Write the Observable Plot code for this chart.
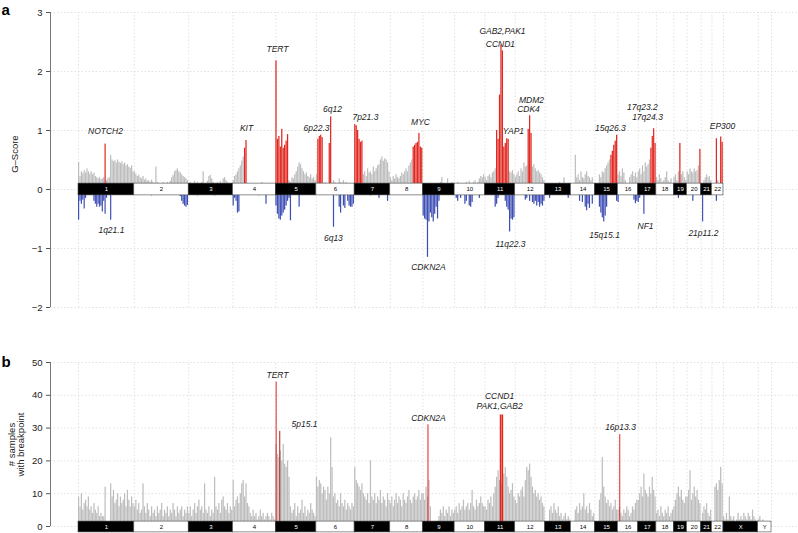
<!DOCTYPE html>
<html><head><meta charset="utf-8">
<script src="https://cdn.jsdelivr.net/npm/d3@7"></script>
<script src="https://cdn.jsdelivr.net/npm/@observablehq/plot@0.6"></script>
<style>
body{margin:0;background:#fff;font-family:"Liberation Sans",Arial,sans-serif;}
#wrap{position:relative;width:798px;height:533px;overflow:hidden;}
#pa{position:absolute;left:0;top:0;}
#pb{position:absolute;left:0;top:330px;}
</style></head><body>
<div id="wrap"><div id="pa"></div><div id="pb"></div></div>
<script>
// ---------- data ----------
const chromNames = ["1","2","3","4","5","6","7","8","9","10","11","12","13","14","15","16","17","18","19","20","21","22","X","Y"];
const chromLengths = [249.25,243.2,198.02,191.15,180.92,171.12,159.14,146.36,141.21,135.53,135.01,133.85,115.17,107.35,102.53,90.35,81.2,78.08,59.13,63.03,48.13,51.3,155.27,59.37];

// G-score of amplifications, bins spread evenly along each chromosome (chr1..chr22)
const ampScores = [
 [0.46,0.22,0.3,0.27,0.32,0.28,0.35,0.3,0.26,0.3,0.25,0.28,0.22,0.2,0.18,0.2,0.17,0.18,0.2,0.77,0.15,0.18,0.2,0.58,0.5,0.47,0.49,0.45,0.5,0.46,0.44,0.47,0.42,0.45,0.4,0.42,0.38,0.36,0.4,0.3],
 [0.3,0.26,0.22,0.24,0.2,0.18,0.22,0.16,0.18,0.14,0.15,0.12,0.16,0.12,0.1,0.38,0.12,0.1,0.08,0.1,0.12,0.08,0.1,0.12,0.1,0.14,0.2,0.24,0.3,0.32,0.35,0.3,0.28,0.25,0.22,0.2,0.18,0.15],
 [0.1,0.12,0.08,0.1,0.14,0.1,0.12,0.08,0.1,0.12,0.3,0.1,0.08,0.14,0.22,0.24,0.18,0.12,0.1,0.08,0.12,0.1,0.14,0.1,0.18,0.2,0.15,0.12,0.1,0.08,0.1],
 [0.15,0.22,0.25,0.3,0.35,0.4,0.48,0.55,0.7,0.83,0.1,0.08,0.1,0.06,0.08,0.05,0.1,0.06,0.05,0.08,0.12,0.06,0.05,0.08,0.04,0.06,0.1,0.05,0.04,0.06],
 [2.18,0.85,0.9,0.72,1.02,0.7,0.75,0.82,0.93,0.15,0.12,0.2,0.18,0.25,0.3,0.38,0.45,0.42,0.35,0.3,0.25,0.28,0.22,0.2,0.25,0.18,0.2,0.15],
 [0.25,0.85,0.9,0.92,0.88,0.1,0.12,0.08,0.1,0.78,1.23,0.1,0.15,0.12,0.08,0.1,0.18,0.12,0.1,0.15,0.1,0.12,0.08,0.1,0.06,0.08,0.05],
 [1.1,1.08,1.0,0.85,0.8,0.82,0.25,0.3,0.22,0.35,0.28,0.3,0.25,0.38,0.3,0.35,0.4,0.42,0.5,0.55,0.48,0.52,0.5,0.45,0.3],
 [0.2,0.15,0.22,0.18,0.25,0.2,0.18,0.22,0.28,0.25,0.3,0.35,0.3,0.4,0.45,0.5,0.72,0.75,0.78,0.8,0.95,0.72,0.7],
 [0.05,0.04,0.06,0.03,0.05,0.04,0.02,0.02,0.03,0.08,0.1,0.06,0.12,0.2,0.08,0.1,0.06,0.18,0.1,0.08,0.12,0.06],
 [0.08,0.1,0.12,0.06,0.1,0.08,0.05,0.1,0.12,0.08,0.14,0.1,0.08,0.12,0.15,0.1,0.12,0.18,0.22,0.2,0.25],
 [0.2,0.15,0.22,0.25,0.2,0.28,0.3,0.35,1.0,0.85,1.6,2.45,2.35,0.72,0.78,0.86,0.85,0.3,0.28,0.32,0.25],
 [0.2,0.25,0.3,0.22,0.35,0.3,0.45,0.38,0.4,1.02,1.25,0.95,0.38,0.42,0.35,0.3,0.32,0.28,0.25,0.2,0.15],
 [0,0,0,0.06,0.08,0.05,0.1,0.06,0.04,0.08,0.12,0.06,0.05,0.2,0.08,0.06,0.1,0.05],
 [0,0,0,0.58,0.2,0.25,0.15,0.3,0.2,0.18,0.25,0.3,0.22,0.2,0.15,0.2,0.1],
 [0,0,0,0.25,0.2,0.3,0.28,0.35,0.4,0.45,0.5,0.58,0.65,0.75,0.82,0.92],
 [0.25,0.3,0.22,0.35,0.28,0.15,0.05,0.1,0.2,0.25,0.3,0.22,0.28,0.2],
 [0.3,0.35,0.25,0.4,0.3,0.45,0.38,0.42,0.5,0.7,0.9,1.03,0.78],
 [0.2,0.15,0.25,0.18,0.12,0.15,0.2,0.3,0.15,0.12,0.18,0.1],
 [0.2,0.25,0.15,0.3,0.78,0.25,0.3,0.2,0.15],
 [0.3,0.25,0.35,0.3,0.28,0.35,0.3,0.32,0.4,0.68],
 [0,0,0.15,0.2,0.25,0.2,0.22,0.15],
 [0,0,0.1,0.86,0.15,0.1,0.89,0.8]
];
// indices of significant (red) amplification bins per chromosome
const ampSignificant = [
 [19],[],[],[8,9],[0,1,2,3,4,5,6,7,8],[1,2,3,4,9,10],[0,1,2,3,4,5],[16,17,18,19,20,21,22],[],[],
 [8,9,10,11,12,13,14,15,16],[9,10,11],[],[],[11,12,13,14,15],[],[9,10,11,12],[],[4],[9],[],[3,6,7]
];
// G-score of deletions (magnitude), same binning
const delScores = [
 [0.52,0.2,0.25,0.18,0.33,0.15,0.08,0.1,0.05,0.06,0.08,0.2,0.25,0.3,0.25,0.3,0.28,0.38,0.2,0.42,0.15,0.05,0.08,0.52,0.1,0.05,0.08,0.04,0.06,0.1,0.05,0.07,0.04,0.06,0.08,0.05,0.04,0.06,0.05,0.03],
 [0.04,0.06,0.05,0.08,0.03,0.05,0.1,0.04,0.06,0.05,0.03,0.07,0.12,0.04,0.05,0.06,0.03,0.04,0.08,0.05,0.04,0.06,0.1,0.05,0.03,0.04,0.06,0.05,0.08,0.04,0.05,0.06,0.12,0.2,0.25,0.28,0.3,0.27],
 [0.05,0.08,0.04,0.06,0.1,0.05,0.12,0.04,0.06,0.08,0.05,0.03,0.06,0.1,0.05,0.04,0.07,0.05,0.12,0.04,0.06,0.05,0.08,0.04,0.06,0.1,0.05,0.04,0.06,0.05,0.08],
 [0.28,0.15,0.2,0.4,0.38,0.08,0.05,0.06,0.04,0.05,0.06,0.04,0.05,0.08,0.05,0.1,0.06,0.05,0.12,0.05,0.08,0.06,0.04,0.25,0.06,0.05,0.08,0.05,0.04,0.06],
 [0.28,0.42,0.5,0.52,0.45,0.4,0.35,0.28,0.2,0.15,0.53,0.08,0.06,0.1,0.05,0.08,0.3,0.06,0.05,0.08,0.04,0.06,0.05,0.04,0.06,0.05,0.04,0.03],
 [0.05,0.04,0.06,0.08,0.05,0.04,0.06,0.05,0.08,0.05,0.06,0.1,0.64,0.08,0.12,0.06,0.3,0.4,0.08,0.28,0.32,0.1,0.2,0.28,0.3,0.3,0.25],
 [0.04,0.06,0.05,0.03,0.08,0.05,0.04,0.06,0.1,0.05,0.07,0.12,0.05,0.04,0.06,0.08,0.05,0.15,0.06,0.04,0.05,0.08,0.06,0.2,0.1],
 [0.05,0.04,0.06,0.08,0.05,0.03,0.06,0.1,0.05,0.04,0.06,0.05,0.08,0.04,0.06,0.05,0.03,0.06,0.04,0.05,0.08,0.04,0.05],
 [0.45,0.5,0.52,1.15,0.55,0.4,0.48,0.55,0.42,0.3,0.5,0.2,0.06,0.05,0.08,0.04,0.06,0.05,0.1,0.05,0.04,0.06],
 [0.05,0.15,0.2,0.06,0.15,0.05,0.08,0.25,0.2,0.06,0.28,0.3,0.22,0.06,0.05,0.08,0.05,0.15,0.06,0.04,0.05],
 [0.04,0.06,0.05,0.08,0.06,0.1,0.08,0.3,0.25,0.15,0.08,0.06,0.05,0.1,0.2,0.3,0.35,0.72,0.5,0.52,0.48],
 [0.05,0.04,0.06,0.05,0.08,0.05,0.06,0.18,0.15,0.06,0.2,0.08,0.22,0.25,0.2,0.28,0.22,0.3,0.25,0.28,0.2],
 [0,0,0,0.15,0.05,0.06,0.04,0.08,0.05,0.06,0.04,0.05,0.08,0.06,0.05,0.04,0.15,0.06],
 [0,0,0,0.06,0.05,0.08,0.2,0.06,0.22,0.1,0.3,0.36,0.25,0.32,0.08,0.25,0.06],
 [0,0,0,0.3,0.4,0.48,0.55,0.45,0.3,0.08,0.06,0.05,0.08,0.06,0.05,0.2],
 [0.22,0.06,0.05,0.04,0.06,0.03,0.05,0.06,0.04,0.08,0.05,0.18,0.24,0.2],
 [0.22,0.15,0.06,0.08,0.42,0.06,0.05,0.08,0.04,0.05,0.06,0.05,0.04],
 [0.05,0.06,0.04,0.08,0.05,0.06,0.1,0.05,0.04,0.06,0.08,0.05],
 [0.05,0.08,0.06,0.15,0.05,0.06,0.04,0.08,0.05],
 [0.05,0.06,0.08,0.05,0.2,0.06,0.04,0.05,0.08,0.05],
 [0,0.55,0.06,0.08,0.05,0.06,0.04,0.05],
 [0,0,0.05,0.2,0.06,0.05,0.08,0.04]
];
const delSignificant = [
 [0,1,2,3,4,5,11,12,13,14,15,16,17,18,19,20,23],[32,33,34,35,36,37],[],[0,1,2,3,4,23],[0,1,2,3,4,5,6,7,8,9,10,16],
 [12,16,17,19,20,22,23,24,25,26],[17,23],[],[0,1,2,3,4,5,6,7,8,9,10,11],[1,2,4,7,8,10,11,12,17],
 [7,8,9,14,15,16,17,18,19,20],[7,8,10,12,13,14,15,16,17,18,19,20],[3,16],[6,8,10,11,12,13,15],[3,4,5,6,7,8,15],
 [0,11,12,13],[0,1,4],[],[3],[4],[1],[3]
];
// number of samples with a breakpoint, same binning (chr1..chrY)
const breakpointCounts = [
 [9,6,10,5,7,8,6,9,5,6,4,7,5,4,6,3,4,3,3,12,0,0,0,13,9,11,7,8,10,6,9,7,8,10,6,11,8,6,9,7],
 [6,8,5,7,4,5,13,6,4,7,5,3,6,4,5,3,6,4,5,7,3,5,4,6,3,5,4,7,5,3,6,4,5,6,3,5,4,6],
 [4,6,3,5,7,4,6,8,5,6,4,13,5,4,6,3,5,4,15,6,5,7,4,8,9,6,5,7,4,6,5],
 [14,6,8,9,7,10,13,14,9,13,7,6,4,3,5,3,4,2,3,5,3,4,2,3,4,3,2,4,3,2],
 [25,22,21,23,20,25,19,18,20,15,6,4,5,7,3,6,4,5,8,4,6,3,5,4,7,5,4,3],
 [15,12,14,13,10,12,11,8,12,10,27,18,9,10,7,8,6,10,7,6,8,5,7,6,5,7,6],
 [18,14,13,12,11,13,10,9,8,10,7,20,9,8,10,7,9,8,11,7,9,8,6,10,8],
 [7,9,6,8,10,7,9,8,6,10,8,7,9,11,8,7,9,10,8,9,11,8,10],
 [10,8,12,9,14,6,0,0,0,0,0,3,5,4,6,3,5,4,6,3,5,4],
 [5,6,4,7,5,6,8,5,6,7,5,7,11,6,5,8,6,7,9,7,6],
 [6,5,8,7,9,6,10,12,15,17,14,13,12,16,18,15,12,10,11,13,9],
 [8,7,10,9,11,12,9,14,18,17,19,15,12,10,11,9,10,8,9,7,6],
 [0,0,0,5,6,4,7,5,4,6,3,4,2,3,4,2,3,2],
 [0,0,0,5,6,4,7,5,6,10,5,6,4,7,5,3,4],
 [0,0,0,8,10,21,12,9,7,8,6,7,5,6,8,5],
 [5,6,4,3,5,4,6,5,3,4,6,5,7,8],
 [8,10,12,9,16,11,10,9,12,10,15,11,9],
 [4,5,3,6,4,3,5,4,6,3,4,5],
 [6,8,10,12,9,11,8,7,9],
 [9,11,17,8,10,12,9,11,8,7],
 [0,4,6,5,7,4,3,5],
 [0,0,12,13,11,14,18,13],
 [3,2,4,2,9,3,2,3,1,2,4,2,3,2,4,3,2,4,3,2,5,3,2,1],
 [2,3,1,2,1,0,0,0,0]
];
// recurrent breakpoint peaks: [chromosome, position (Mb), samples]
const breakpointPeaks = [["5",1.3,44],["5",17.4,29],["9",22,31],["11",69.5,34],["11",77.5,34],["16",8,28]];
// annotations: [chromosome, position (Mb), value, text]
const ampLabels = [["1",120.6,0.98,"NOTCH2"],["4",60,1.03,"KIT"],["5",7.3,2.37,"TERT"],["6",0.6,1.03,"6p22.3"],["6",72,1.36,"6q12"],["7",48,1.22,"7p21.3"],["8",135,1.14,"MYC"],["11",78,2.68,"GAB2,PAK1"],["11",69,2.47,"CCND1"],["11",127,0.98,"YAP1"],["12",72.7,1.51,"MDM2"],["12",59.2,1.36,"CDK4"],["15",69,1.03,"15q26.3"],["17",19,1.39,"17q23.2"],["17",41.6,1.22,"17q24.3"],["22",47,1.08,"EP300"]];
const delLabels = [["1",147,-0.69,"1q21.1"],["6",76,-0.83,"6q13"],["9",24,-1.32,"CDKN2A"],["11",114,-0.92,"11q22.3"],["15",42.4,-0.78,"15q15.1"],["17",32.8,-0.63,"NF1"],["21",10,-0.75,"21p11.2"]];
const breakpointLabels = [["5",7.3,46,"TERT"],["5",128,31.1,"5p15.1"],["9",24,32.9,"CDKN2A"],["11",65,39.6,"CCND1"],["11",65,36.6,"PAK1,GAB2"],["16",11.3,30.2,"16p13.3"]];
const gScoreTicks = [-2,-1,0,1,2,3];
const countTicks = [0,10,20,30,40,50];

// ---------- derived ----------
const chromStart = []; let acc = 0;
for (const L of chromLengths) { chromStart.push(acc); acc += L; }
const genomeEnd = acc;
const pxPerMb = 693 / genomeEnd;
const xMin = -28 / pxPerMb, xMax = genomeEnd + 27 / pxPerMb;
const gpos = (c, mb) => chromStart[chromNames.indexOf(c)] + mb;

function toBins(arrays, sig) {
  const out = [];
  arrays.forEach((vals, c) => {
    const n = vals.length, L = chromLengths[c], st = chromStart[c];
    vals.forEach((v, i) => {
      if (v <= 0) return;
      out.push({x1: st + L * i / n, x2: st + L * (i + 1) / n, v, sig: sig ? sig[c].includes(i) : false});
    });
  });
  return out;
}
const ampBins = toBins(ampScores, ampSignificant);
const delBins = toBins(delScores, delSignificant);
const bpBins = toBins(breakpointCounts, null);
const chroms = chromNames.map((n, i) => ({name: n, x1: chromStart[i], x2: chromStart[i] + chromLengths[i], dark: i % 2 === 0}));
const chromsA = chroms.slice(0, 22);
const boundaries = [0, ...chroms.map(d => d.x2)];

const RED = "#e0261f", BLUE = "#3f50b5", GRAY = "#bdbdbd", LGRAY = "#c9c9c9";
const GRID = {stroke: "#cfcfcf", strokeWidth: 0.6, strokeDasharray: "1.5,2"};
const FONT = "Liberation Sans, Arial, Helvetica, sans-serif";
const minusFmt = d => d < 0 ? "\u2212" + Math.abs(d) : String(d);
const lab = (arr) => arr.map(([c, p, v, t]) => ({x: gpos(c, p), y: v, t}));
const BAR = {x1: "x1", x2: "x2", y1: 0, insetRight: 0.2};

// ---------- panel a ----------
const pa = Plot.plot({
  width: 798, height: 320, marginLeft: 50, marginRight: 0, marginTop: 12, marginBottom: 13,
  style: {fontFamily: FONT, fontSize: "9.5px", color: "#222", background: "white"},
  x: {domain: [xMin, xMax], axis: null},
  y: {domain: [-2, 3], axis: null},
  marks: [
    Plot.ruleY(gScoreTicks, {x1: xMin, x2: xMax, ...GRID}),
    Plot.ruleX(boundaries, {y1: -2, y2: 3, ...GRID}),
    Plot.rectY(ampBins.filter(d => !d.sig), {...BAR, y2: "v", fill: GRAY}),
    Plot.rectY(ampBins.filter(d => d.sig), {...BAR, y2: "v", fill: RED}),
    Plot.rectY(delBins.filter(d => !d.sig), {...BAR, y2: d => -d.v, fill: LGRAY}),
    Plot.rectY(delBins.filter(d => d.sig), {...BAR, y2: d => -d.v, fill: BLUE}),
    Plot.rect(chromsA, {x1: "x1", x2: "x2", y1: -0.1, y2: 0.1, fill: d => d.dark ? "black" : "white", stroke: "#444", strokeWidth: 0.6}),
    Plot.text(chromsA.filter(d => d.dark), {x: d => (d.x1 + d.x2) / 2, y: 0, text: "name", fill: "white", fontSize: 6}),
    Plot.text(chromsA.filter(d => !d.dark), {x: d => (d.x1 + d.x2) / 2, y: 0, text: "name", fill: "black", fontSize: 6}),
    Plot.ruleX([xMin], {y1: -2, y2: 3, stroke: "#555", strokeWidth: 0.8}),
    Plot.axisY({ticks: gScoreTicks, tickFormat: minusFmt, tickSize: 4, tickPadding: 4, label: null, stroke: "#555", fill: "#222", fontSize: 9.5}),
    Plot.text(["G\u2013Score"], {x: () => xMin, y: () => 0.6, dx: -36, rotate: -90, fontSize: 9.5, fill: "#222"}),
    Plot.text(["a"], {x: () => xMin, y: () => 3, dx: -49, dy: 2, textAnchor: "start", lineAnchor: "bottom", fontSize: 15, fontWeight: "bold", fill: "black"}),
    Plot.text(lab(ampLabels), {x: "x", y: "y", text: "t", fontStyle: "italic", fontSize: 8.5, fill: "#222"}),
    Plot.text(lab(delLabels), {x: "x", y: "y", text: "t", fontStyle: "italic", fontSize: 8.5, fill: "#222"})
  ]
});
document.getElementById("pa").append(pa);

// ---------- panel b ----------
const peaks = breakpointPeaks.map(([c, p, v], i) => ({x: gpos(c, p), v, c, i}));
const pb = Plot.plot({
  width: 798, height: 203, marginLeft: 50, marginRight: 0, marginTop: 32, marginBottom: 7,
  style: {fontFamily: FONT, fontSize: "9.5px", color: "#222", background: "white"},
  x: {domain: [xMin, xMax], axis: null},
  y: {domain: [0, 50], axis: null},
  marks: [
    Plot.ruleY(countTicks, {x1: xMin, x2: xMax, ...GRID}),
    Plot.ruleX(boundaries, {y1: 0, y2: 50, ...GRID}),
    Plot.rectY(bpBins, {...BAR, y2: "v", fill: GRAY}),
    Plot.ruleX(peaks.filter(d => d.i !== 1 && d.c !== "11"), {x: "x", y1: 0, y2: "v", stroke: RED, strokeWidth: 1}),
    Plot.ruleX(peaks.filter(d => d.i === 1), {x: "x", y1: 0, y2: "v", stroke: "#a3221c", strokeWidth: 1}),
    Plot.ruleX(peaks.filter(d => d.c === "11"), {x: "x", y1: 0, y2: "v", stroke: RED, strokeWidth: 1.6}),
    Plot.rect(chroms, {x1: "x1", x2: "x2", y1: -1.8, y2: 1.5, fill: d => d.dark ? "black" : "white", stroke: "#444", strokeWidth: 0.6}),
    Plot.text(chroms.filter(d => d.dark), {x: d => (d.x1 + d.x2) / 2, y: -0.15, text: "name", fill: "white", fontSize: 6}),
    Plot.text(chroms.filter(d => !d.dark), {x: d => (d.x1 + d.x2) / 2, y: -0.15, text: "name", fill: "black", fontSize: 6}),
    Plot.ruleX([xMin], {y1: 0, y2: 50, stroke: "#555", strokeWidth: 0.8}),
    Plot.axisY({ticks: countTicks, tickSize: 4, tickPadding: 4, label: null, stroke: "#555", fill: "#222", fontSize: 9.5}),
    Plot.text(["# samples\nwith breakpoint"], {x: () => xMin, y: () => 25, dx: -34, rotate: -90, fontSize: 9.5, lineHeight: 0.95, fill: "#222"}),
    Plot.text(["b"], {x: () => xMin, y: () => 50, dx: -49, dy: 4, textAnchor: "start", lineAnchor: "bottom", fontSize: 15, fontWeight: "bold", fill: "black"}),
    Plot.text(lab(breakpointLabels), {x: "x", y: "y", text: "t", fontStyle: "italic", fontSize: 8.5, fill: "#222"})
  ]
});
document.getElementById("pb").append(pb);
</script>
</body></html>
